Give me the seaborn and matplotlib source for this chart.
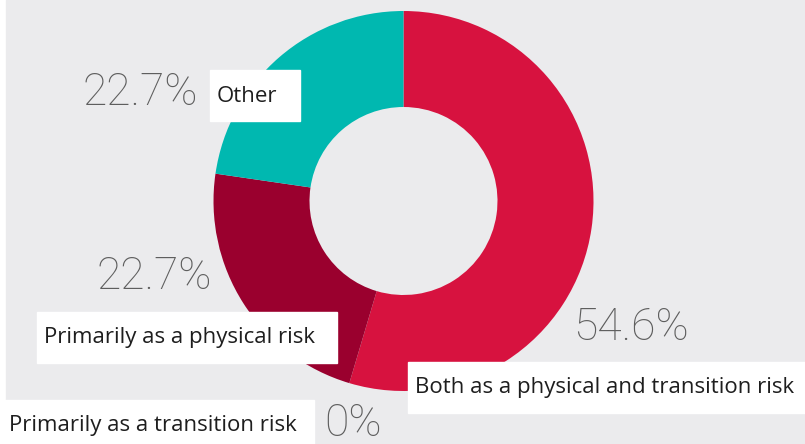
import matplotlib
matplotlib.use("Agg")
import matplotlib.pyplot as plt
import seaborn as sns
from matplotlib.patches import Rectangle

categories = ["Both as a physical and transition risk", "Primarily as a transition risk",
              "Primarily as a physical risk", "Other"]
values = [54.6, 0.0, 22.7, 22.7]
pct_labels = ["54.6%", "0%", "22.7%", "22.7%"]
colors = ["#d7123f", "#7a0022", "#9a002e", "#00b8b0"]

sns.set_theme(style="white")
plt.rcParams['font.family'] = ['Open Sans', 'DejaVu Sans']

W, H = 805, 444
bg = "#ebebed"
fig = plt.figure(figsize=(W / 100, H / 100), dpi=100, facecolor="white")
ax = fig.add_axes([0, 0, 1, 1])

# background panels (pixel coords, y up)
ax.add_patch(Rectangle((6, H - 400), W - 6, 400, color=bg, zorder=0))
ax.add_patch(Rectangle((314, 0), W - 314, H - 400, color=bg, zorder=0))

ax.pie(values, colors=colors, startangle=90, counterclock=False,
       center=(403.5, H - 201), radius=190,
       wedgeprops=dict(width=96, linewidth=0))
ax.set_xlim(0, W)
ax.set_ylim(0, H)
ax.set_aspect("equal")
ax.axis("off")

# label boxes (x0, y0 top, x1, y1 bottom) in image pixels
boxes = {
    "Other": (210, 70, 300, 121),
    "Primarily as a physical risk": (37, 312, 337, 363),
    "Both as a physical and transition risk": (408, 362, 805, 413),
    "Primarily as a transition risk": (0, 400, 314, 444),
}
text_pos = {
    "Other": (217, 96),
    "Primarily as a physical risk": (44, 338),
    "Both as a physical and transition risk": (415, 387),
    "Primarily as a transition risk": (9, 425),
}
pct_pos = {
    "Other": (82, 93),
    "Primarily as a physical risk": (96, 277),
    "Both as a physical and transition risk": (573, 328),
    "Primarily as a transition risk": (324, 424),
}

for cat, pct in zip(categories, pct_labels):
    x0, y0, x1, y1 = boxes[cat]
    ax.add_patch(Rectangle((x0, H - y1), x1 - x0, y1 - y0, color="white", zorder=3))
    tx, ty = text_pos[cat]
    ax.text(tx, H - ty, cat, fontsize=16, color="#1e1e1e", va="center", ha="left", zorder=4)
    px, py = pct_pos[cat]
    ax.text(px, H - py, pct, fontsize=32, color="#5e5e5e", va="center", ha="left",
            family=['Roboto', 'DejaVu Sans'], fontweight="light", zorder=4)

fig.savefig("out.png", dpi=100, facecolor="white")
